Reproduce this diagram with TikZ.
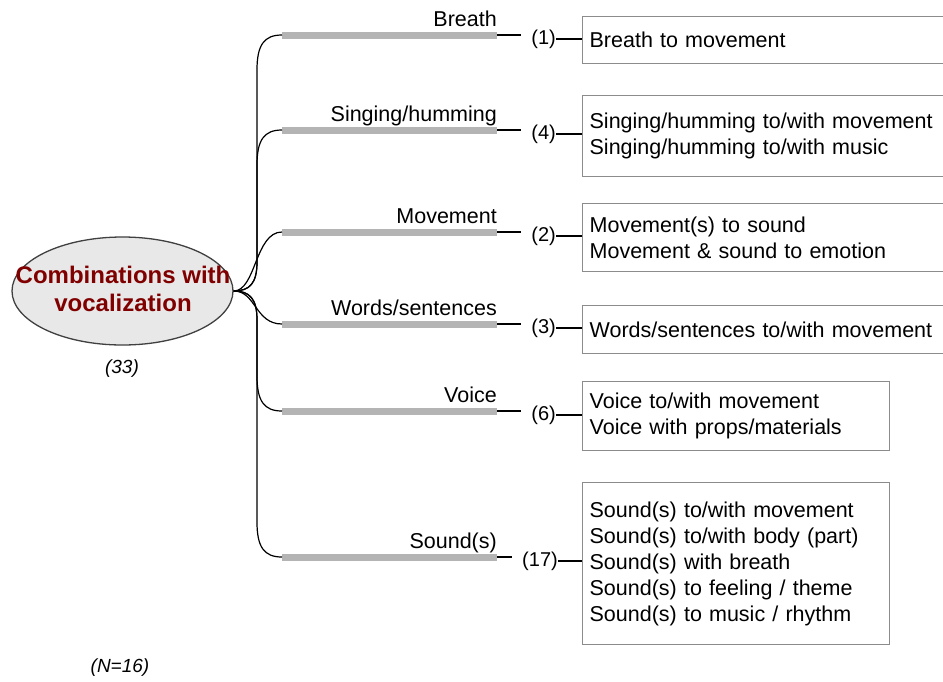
\documentclass[tikz,border=0pt]{standalone}
\usepackage{fontspec}
\setmainfont{Liberation Sans}
\usetikzlibrary{shapes.geometric}
\definecolor{rootred}{HTML}{800000}
\definecolor{rootfill}{HTML}{E8E8E8}
\definecolor{rootdraw}{HTML}{404040}
\definecolor{bargray}{HTML}{B4B4B4}
\definecolor{boxgray}{HTML}{8C8C8C}
\begin{document}
\begin{tikzpicture}[x=1pt,y=-1pt,
  conn/.style={line width=1.2pt, black},
  bar/.style={line width=7pt, bargray},
  lbl/.style={font=\fontsize{21.5}{26}\selectfont, inner sep=0pt, anchor=base east},
  cnt/.style={font=\fontsize{20}{24}\selectfont, inner sep=0pt, anchor=east},
  box/.style={draw=boxgray, line width=1.3pt, anchor=north west, inner xsep=7pt, inner ysep=0pt, align=left, font=\fontsize{21.5}{26}\selectfont},
  note/.style={font=\itshape\fontsize{19}{23}\selectfont, inner sep=0pt}
]
\clip (0,0) rectangle (943,681);
\fill[white] (0,0) rectangle (943,681);

% root
\node[ellipse, draw=rootdraw, fill=rootfill, line width=1.3pt, minimum width=221pt, minimum height=108pt, inner sep=0pt] (root) at (122.5,291) {};
\node[align=center, text=rootred, inner sep=0pt, font=\bfseries\fontsize{24}{28}\selectfont] (roottext) at (123,289) {Combinations with\\vocalization};
\node[note] (n33) at (122,369) {(33)};
\node[note] (n16) at (120,668) {(N=16)};

% bars
\coordinate (bs1) at (282,35);  \coordinate (be1) at (497,35);
\coordinate (bs2) at (282,130); \coordinate (be2) at (497,130);
\coordinate (bs3) at (282,232); \coordinate (be3) at (497,232);
\coordinate (bs4) at (282,324); \coordinate (be4) at (497,324);
\coordinate (bs5) at (282,411); \coordinate (be5) at (497,411);
\coordinate (bs6) at (282,557); \coordinate (be6) at (497,557);
\foreach \i in {1,...,6} { \draw[bar] (bs\i) -- (be\i); }

% labels above bars
\node[lbl] (l1) at (497,26)  {Breath};
\node[lbl] (l2) at (497,121) {Singing/humming};
\node[lbl] (l3) at (497,223) {Movement};
\node[lbl] (l4) at (497,315) {Words/sentences};
\node[lbl] (l5) at (497,402) {Voice};
\node[lbl] (l6) at (497,548) {Sound(s)};

% curves from root
\draw[conn] (root.east) .. controls (250,291) and (257,283) .. (257,262) -- (257,70) .. controls (257,45) and (264,35) .. (bs1);
\draw[conn] (root.east) .. controls (250,291) and (257,283) .. (257,262) -- (257,165) .. controls (257,140) and (264,130) .. (bs2);
\draw[conn] (root.east) .. controls (256,291) and (255,232) .. (bs3);
\draw[conn] (root.east) .. controls (256,291) and (255,324) .. (bs4);
\draw[conn] (root.east) .. controls (250,291) and (257,299) .. (257,320) -- (257,376) .. controls (257,401) and (264,411) .. (bs5);
\draw[conn] (root.east) .. controls (250,291) and (257,299) .. (257,320) -- (257,522) .. controls (257,547) and (264,557) .. (bs6);

% counts
\node[cnt] (c1) at (556,39)  {(1)};
\node[cnt] (c2) at (556,134) {(4)};
\node[cnt] (c3) at (556,236) {(2)};
\node[cnt] (c4) at (556,328) {(3)};
\node[cnt] (c5) at (556,415) {(6)};
\node[cnt] (c6) at (558,561) {(17)};

% boxes
\node[box, text width=349pt, minimum height=47pt] (b1) at (582,16) {Breath to movement};
\node[box, text width=349pt, minimum height=81pt] (b2) at (582,95) {Singing/humming to/with movement\\Singing/humming to/with music};
\node[box, text width=349pt, minimum height=68pt] (b3) at (582,203) {Movement(s) to sound\\Movement \& sound to emotion};
\node[box, text width=349pt, minimum height=48pt] (b4) at (582,305) {Words/sentences to/with movement};
\node[box, text width=293pt, minimum height=69pt] (b5) at (582,381) {Voice to/with movement\\Voice with props/materials};
\node[box, text width=293pt, minimum height=162pt] (b6) at (582,482) {Sound(s) to/with movement\\Sound(s) to/with body (part)\\Sound(s) with breath\\Sound(s) to feeling / theme\\Sound(s) to music / rhythm};

% connectors bar -> count -> box
\foreach \i in {1,...,6} {
  \draw[conn] (be\i) -- ([xshift=-10pt]c\i.west |- be\i);
  \draw[conn] (c\i.east) -- (c\i.east -| b\i.west);
}
\end{tikzpicture}
\end{document}
